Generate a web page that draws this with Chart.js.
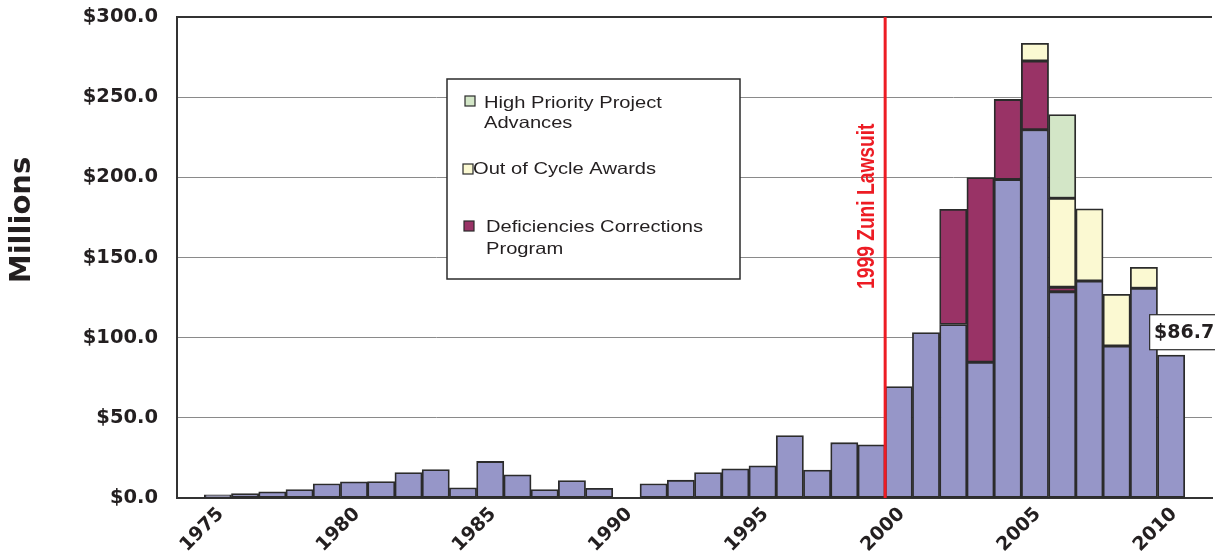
<!DOCTYPE html>
<html>
<head>
<meta charset="utf-8">
<title>Funding by year</title>
<script src="https://cdn.jsdelivr.net/npm/chart.js@4.4.1/dist/chart.umd.min.js"></script>
<style>
    html, body { margin: 0; padding: 0; background: #fff; }
    #wrap { width: 1215px; height: 554px; position: relative; }
</style>
</head>
<body>
<div id="wrap"><canvas id="chart"></canvas></div>
<script>
// Data (millions of dollars)
const years = ['1974', '1975', '1976', '1977', '1978', '1979', '1980', '1981', '1982', '1983',
    '1984', '1985', '1986', '1987', '1988', '1989', '1990', '1991', '1992', '1993',
    '1994', '1995', '1996', '1997', '1998', '1999', '2000', '2001', '2002', '2003',
    '2004', '2005', '2006', '2007', '2008', '2009', '2010', '2011'];

const baseFunding = [null, 2.0, 2.7, 3.9, 5.3, 8.9, 10.1, 10.3, 15.9, 17.8,
    6.4, 22.8, 14.5, 5.3, 10.9, 6.1, null, 8.9, 11.1, 15.9,
    18.2, 20.1, 38.9, 17.4, 34.5, 33.2, 69.5, 103.2, 108.2, 84.7,
    198.6, 229.7, 128.6, 135.3, 94.8, 130.8, 89.1, null];

const deficiencies = [null, null, null, null, null, null, null, null, null, null,
    null, null, null, null, null, null, null, null, null, null,
    null, null, null, null, null, null, null, null, 71.9, 115.2,
    50.0, 42.9, 2.9, null, null, null, null, null];

const outOfCycle = [null, null, null, null, null, null, null, null, null, null,
    null, null, null, null, null, null, null, null, null, null,
    null, null, null, null, null, null, null, null, null, null,
    null, 11.0, 55.4, 45.1, 32.2, 13.1, null, null];

const highPriority = [null, null, null, null, null, null, null, null, null, null,
    null, null, null, null, null, null, null, null, null, null,
    null, null, null, null, null, null, null, null, null, null,
    null, null, 52.3, null, null, null, null, null];

const yTicks = [0, 50, 100, 150, 200, 250, 300];
const labelYears = ['1975', '1980', '1985', '1990', '1995', '2000', '2005', '2010'];

const lawsuitYear = '1999';
const lawsuitText = '1999 Zuni Lawsuit';
const tagYear = '2010';
const tagText = '$86.7';
const axisTitle = 'Millions';

const legendItems = [
    { lines: ['High Priority Project', 'Advances'], color: '#d3e6c7' },
    { lines: ['Out of Cycle Awards'], color: '#fbf9d2' },
    { lines: ['Deficiencies Corrections', 'Program'], color: '#993366' }
];

const INK = '#231f20';
const EDGE = '#2b2b2b';

// Red lawsuit line + label
const lawsuitPlugin = {
    id: 'lawsuit',
    afterDatasetsDraw(chart) {
        const { ctx, chartArea, scales } = chart;
        const i = years.indexOf(lawsuitYear);
        const lx = (scales.x.getPixelForValue(i) + scales.x.getPixelForValue(i + 1)) / 2;

        ctx.save();
        ctx.strokeStyle = '#ed1c24';
        ctx.lineWidth = 3;
        ctx.beginPath();
        ctx.moveTo(lx, chartArea.top);
        ctx.lineTo(lx, chartArea.bottom);
        ctx.stroke();

        ctx.translate(lx - 19, scales.y.getPixelForValue(182));
        ctx.rotate(-Math.PI / 2);
        ctx.scale(0.8, 1);
        ctx.fillStyle = '#ed1c24';
        ctx.font = 'bold 24px "Liberation Sans", Arial, sans-serif';
        ctx.textAlign = 'center';
        ctx.textBaseline = 'middle';
        ctx.fillText(lawsuitText, 0, 1);
        ctx.restore();
    }
};

// Legend box, value tag and the y title
const extrasPlugin = {
    id: 'extras',
    afterDraw(chart) {
        const { ctx, scales } = chart;
        ctx.save();

        // legend box
        ctx.fillStyle = '#fff';
        ctx.fillRect(447, 79, 293, 200);
        ctx.strokeStyle = EDGE;
        ctx.lineWidth = 1.5;
        ctx.strokeRect(447, 79, 293, 200);

        const rows = [
            { sq: [465, 96], text: 484, ys: [103, 123] },
            { sq: [463, 164], text: 473, ys: [169] },
            { sq: [464, 221], text: 486, ys: [227, 249] }
        ];
        legendItems.forEach((item, k) => {
            const r = rows[k];
            ctx.fillStyle = item.color;
            ctx.fillRect(r.sq[0], r.sq[1], 10, 10);
            ctx.strokeStyle = EDGE;
            ctx.lineWidth = 1.2;
            ctx.strokeRect(r.sq[0], r.sq[1], 10, 10);

            ctx.fillStyle = INK;
            ctx.font = '16.5px "Liberation Sans", Arial, sans-serif';
            ctx.textAlign = 'left';
            ctx.textBaseline = 'middle';
            item.lines.forEach((line, j) => {
                ctx.save();
                ctx.translate(r.text, r.ys[j]);
                ctx.scale(1.22, 1);
                ctx.fillText(line, 0, 0);
                ctx.restore();
            });
        });

        // value tag next to the last bar
        const ti = years.indexOf(tagYear);
        const cx = scales.x.getPixelForValue(ti) + 12;
        const cy = scales.y.getPixelForValue(baseFunding[ti] + 14.3);
        ctx.fillStyle = '#fff';
        ctx.fillRect(cx - 33.5, cy - 17.5, 67, 35);
        ctx.strokeStyle = EDGE;
        ctx.lineWidth = 1.2;
        ctx.strokeRect(cx - 33.5, cy - 17.5, 67, 35);
        ctx.fillStyle = INK;
        ctx.font = 'bold 19px "DejaVu Sans", sans-serif';
        ctx.textAlign = 'center';
        ctx.textBaseline = 'middle';
        ctx.fillText(tagText, cx + 1, cy + 1);

        // y title
        ctx.translate(22, 220);
        ctx.rotate(-Math.PI / 2);
        ctx.font = 'bold 29px "DejaVu Sans", sans-serif';
        ctx.fillText(axisTitle, 0, 0);
        ctx.restore();
    }
};

function barSet(label, data, color) {
    return {
        label: label,
        data: data,
        backgroundColor: color,
        borderColor: EDGE,
        borderWidth: 1.8,
        borderSkipped: false,
        categoryPercentage: 1.0,
        barPercentage: 1.0
    };
}

const ctx = document.getElementById('chart').getContext('2d');
new Chart(ctx, {
    type: 'bar',
    data: {
        labels: years,
        datasets: [
            barSet('Base Funding', baseFunding, '#9696c8'),
            barSet(legendItems[2].lines.join(' '), deficiencies, '#993366'),
            barSet(legendItems[1].lines.join(' '), outOfCycle, '#fbf9d2'),
            barSet(legendItems[0].lines.join(' '), highPriority, '#d3e6c7')
        ]
    },
    options: {
        responsive: true,
        maintainAspectRatio: false,
        animation: false,
        layout: {
            padding: { left: 0, right: 3, top: 17, bottom: 0 }
        },
        plugins: {
            legend: { display: false },
            tooltip: { enabled: false }
        },
        scales: {
            x: {
                stacked: true,
                grid: { display: false },
                border: { color: '#333', width: 2 },
                afterFit: (axis) => { axis.height = 56; },
                ticks: {
                    autoSkip: false,
                    minRotation: 45,
                    maxRotation: 45,
                    padding: -3,
                    labelOffset: 3,
                    color: INK,
                    font: { family: '"DejaVu Sans", sans-serif', weight: 'bold', size: 19 },
                    callback: function(value) {
                        const y = this.getLabelForValue(value);
                        return labelYears.includes(y) ? y : '';
                    }
                }
            },
            y: {
                stacked: true,
                min: 0,
                max: 300,
                afterFit: (axis) => {
                    axis.width = 177;
                    axis.paddingTop = 0;
                    axis.paddingBottom = 0;
                },
                afterBuildTicks: (axis) => { axis.ticks = yTicks.map(v => ({ value: v })); },
                grid: {
                    drawTicks: false,
                    color: (c) => c.tick && c.tick.value === 300 ? '#333' : '#8a8a8a',
                    lineWidth: (c) => c.tick && c.tick.value === 300 ? 2 : 1
                },
                border: { color: '#333', width: 2 },
                ticks: {
                    padding: 19,
                    color: INK,
                    font: { family: '"DejaVu Sans", sans-serif', weight: 'bold', size: 19.5 },
                    callback: (value) => '$' + value.toFixed(1)
                }
            }
        }
    },
    plugins: [lawsuitPlugin, extrasPlugin]
});
</script>
</body>
</html>
